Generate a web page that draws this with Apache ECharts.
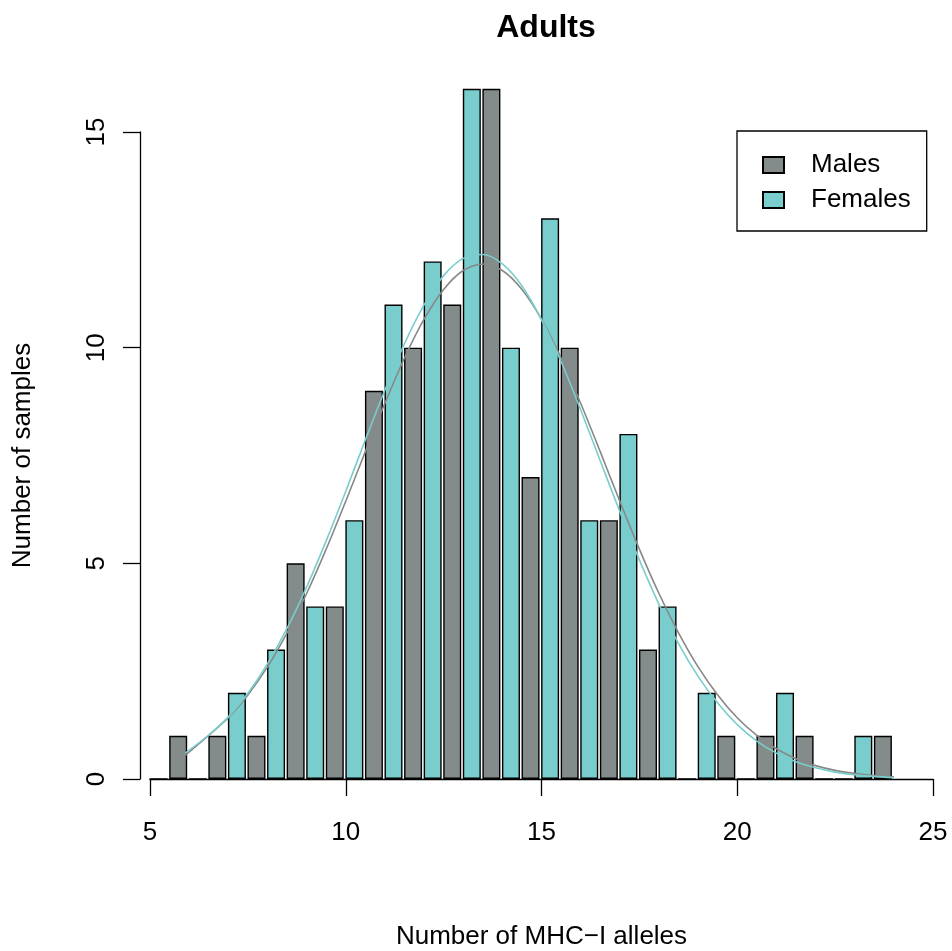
<!DOCTYPE html>
<html>
<head>
<meta charset="utf-8">
<title>Adults</title>
<script src="https://cdn.jsdelivr.net/npm/echarts@6/dist/echarts.min.js"></script>
<style>
  html, body { margin: 0; padding: 0; background: #fff; }
  #chart { width: 952px; height: 951px; }
</style>
</head>
<body>
<div id="chart"></div>
<script>
// allele count bins, 5 .. 23
var bins = [5, 6, 7, 8, 9, 10, 11, 12, 13, 14, 15, 16, 17, 18, 19, 20, 21, 22, 23];
var males = [1, 1, 1, 5, 4, 9, 10, 11, 16, 7, 10, 6, 3, 0, 1, 1, 1, 0, 1];
var females = [0, 0, 2, 3, 4, 6, 11, 12, 16, 10, 13, 6, 8, 4, 2, 0, 2, 0, 1];

// fitted curves
var curveX = [5.9, 6.5, 7, 7.5, 8, 8.5, 9, 9.5, 10, 10.5, 11, 11.5, 12, 12.5, 13, 13.5, 14, 14.5, 15, 15.5,
  16, 16.5, 17, 17.5, 18, 18.5, 19, 19.5, 20, 20.5, 21, 21.5, 22, 22.5, 23, 23.5, 24];
var maleCurve = [0.55, 1.01, 1.42, 1.95, 2.6, 3.39, 4.3, 5.33, 6.44, 7.59, 8.71, 9.76, 10.66, 11.35, 11.79, 11.94,
  11.79, 11.35, 10.66, 9.76, 8.71, 7.59, 6.44, 5.33, 4.3, 3.39, 2.6, 1.95, 1.42, 1.01, 0.7, 0.47, 0.31, 0.2, 0.13, 0.08, 0.05];
var femaleCurve = [0.6, 1.02, 1.44, 1.99, 2.67, 3.49, 4.45, 5.52, 6.67, 7.86, 9.02, 10.09, 10.99, 11.67, 12.07, 12.16,
  11.94, 11.43, 10.65, 9.68, 8.56, 7.38, 6.2, 5.08, 4.05, 3.14, 2.38, 1.76, 1.26, 0.88, 0.6, 0.4, 0.26, 0.16, 0.1, 0.06, 0.03];

var xTicks = [5, 10, 15, 20, 25];
var yTicks = [0, 5, 10, 15];

var grey = '#838B8B';
var teal = '#79CDCD';
var font = '"Liberation Sans", Arial, Helvetica, sans-serif';

// bar pairs sit inside each bin: female left, male right
function pairs(vals, shift) {
  return bins.map(function (b, i) { return [b + shift, vals[i]]; });
}
function curve(vals) {
  return curveX.map(function (x, i) { return [x, vals[i]]; });
}

var chart = echarts.init(document.getElementById('chart'), null, { renderer: 'canvas' });

chart.setOption({
  animation: false,
  backgroundColor: '#fff',
  textStyle: { fontFamily: font },
  title: {
    text: 'Adults',
    left: 541,
    textAlign: 'center',
    top: 7,
    textStyle: { fontSize: 32, fontWeight: 'bold', color: '#000', fontFamily: font }
  },
  legend: {
    data: ['Males', 'Females'],
    orient: 'vertical',
    left: 737,
    top: 131,
    padding: [21, 16, 18, 25],
    itemWidth: 21,
    itemHeight: 16,
    itemGap: 9,
    borderColor: '#000',
    borderWidth: 1.3,
    icon: 'rect',
    textStyle: { fontSize: 26, color: '#000', padding: [0, 0, 0, 22], fontFamily: font }
  },
  // fixed plot box, no auto shrinking for labels
  grid: { left: 150, right: 19, top: 132, bottom: 172, outerBoundsMode: 'none' },
  xAxis: {
    type: 'value',
    min: 5,
    max: 25,
    interval: 5,
    name: 'Number of MHC\u2212I alleles',
    nameLocation: 'middle',
    nameGap: 145,
    nameTextStyle: { fontSize: 26, color: '#000', fontFamily: font },
    axisLine: { onZero: false, lineStyle: { color: '#000', width: 1.3 } },
    axisTick: { length: 17, lineStyle: { color: '#000', width: 1.3 } },
    axisLabel: {
      margin: 41, fontSize: 26, color: '#000', fontFamily: font,
      customValues: xTicks
    },
    splitLine: { show: false }
  },
  yAxis: {
    type: 'value',
    min: 0,
    max: 15,
    interval: 5,
    offset: 10,
    name: 'Number of samples',
    nameLocation: 'middle',
    nameGap: 104,
    nameTextStyle: { fontSize: 26, color: '#000', fontFamily: font },
    axisLine: { show: true, lineStyle: { color: '#000', width: 1.3 } },
    axisTick: { show: true, length: 17, lineStyle: { color: '#000', width: 1.3 } },
    axisLabel: {
      rotate: 90, margin: 30, fontSize: 26, color: '#000', fontFamily: font,
      customValues: yTicks
    },
    splitLine: { show: false }
  },
  series: [
    {
      name: 'Males',
      type: 'bar',
      data: pairs(males, 0.72),
      barWidth: 18,
      barGap: '-100%',
      clip: false,
      itemStyle: { color: grey, borderColor: '#000', borderWidth: 1.4 }
    },
    {
      name: 'Females',
      type: 'bar',
      data: pairs(females, 0.22),
      barWidth: 18,
      barGap: '-100%',
      clip: false,
      itemStyle: { color: teal, borderColor: '#000', borderWidth: 1.4 }
    },
    {
      name: 'Males curve',
      type: 'line',
      data: curve(maleCurve),
      smooth: 0.3,
      showSymbol: false,
      silent: true,
      z: 5,
      lineStyle: { color: '#888888', width: 1.6 }
    },
    {
      name: 'Females curve',
      type: 'line',
      data: curve(femaleCurve),
      smooth: 0.3,
      showSymbol: false,
      silent: true,
      z: 5,
      lineStyle: { color: teal, width: 1.6 }
    }
  ]
});
</script>
</body>
</html>
